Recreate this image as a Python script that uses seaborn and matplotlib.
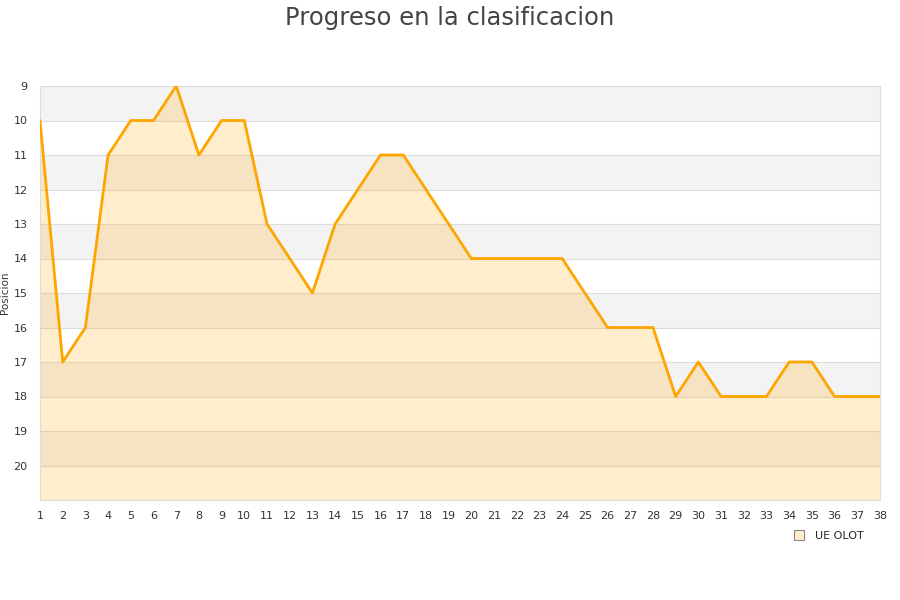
import matplotlib

matplotlib.use("Agg")

import matplotlib.pyplot as plt
import pandas as pd
import seaborn as sns
from matplotlib.lines import Line2D

jornadas = list(range(1, 39))
posiciones = [10, 17, 16, 11, 10, 10, 9, 11, 10, 10, 13, 14, 15, 13, 12, 11, 11, 12, 13, 14,
              14, 14, 14, 14, 15, 16, 16, 16, 18, 17, 18, 18, 18, 17, 17, 18, 18, 18]
equipo = "UE OLOT"
y_ticks = list(range(9, 21))

df = pd.DataFrame({"Jornada": jornadas, "Posicion": posiciones})

sns.set_style("white")
plt.rcParams["font.family"] = ["DejaVu Sans"]

fig = plt.figure(figsize=(9, 6), dpi=100)
ax = fig.add_axes([40 / 900, 100 / 600, 840 / 900, 414 / 600])

# alternating bands
for i, y in enumerate(range(9, 21)):
    if i % 2 == 0:
        ax.axhspan(y, y + 1, color="#f3f3f3", zorder=0, lw=0)
    ax.axhline(y, color="#dddddd", lw=0.8, zorder=1)

ax.fill_between(df["Jornada"], df["Posicion"], 21, color="#ffa500", alpha=0.2, lw=0, zorder=2)
sns.lineplot(data=df, x="Jornada", y="Posicion", color="#ffa500", lw=2, ax=ax, zorder=3)

ax.set_xlim(1, 38)
ax.set_ylim(21, 9)
ax.set_xticks(jornadas)
ax.set_yticks(y_ticks)
ax.tick_params(axis="both", length=0, labelsize=8, labelcolor="#333333")
ax.tick_params(axis="x", pad=8)
ax.tick_params(axis="y", pad=9)
ax.set_xlabel("")
ax.set_ylabel("Posicion", fontsize=7.5, color="#333333")
ax.yaxis.set_label_coords(-30 / 840, 0.5)
for s in ax.spines.values():
    s.set_color("#dddddd")

fig.suptitle("Progreso en la clasificacion", fontsize=17.5, color="#444444", y=0.99)

handle = Line2D([], [], marker="s", ls="", markersize=7, markerfacecolor="#ffeecc",
                markeredgecolor="#888888", markeredgewidth=0.8)
fig.legend([handle], [equipo], loc="center", bbox_to_anchor=(826 / 900, 1 - 536 / 600),
           frameon=False, fontsize=8, handletextpad=0.4)

fig.savefig("out.png", dpi=100)
